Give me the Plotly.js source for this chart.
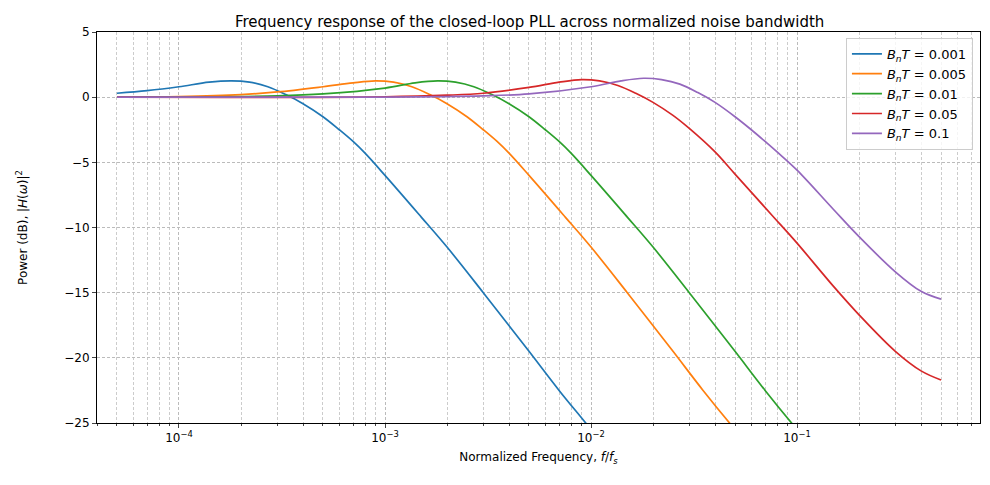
<!DOCTYPE html>
<html>
<head>
<script src="https://cdn.plot.ly/plotly-3.0.1.min.js"></script>
<style>body{margin:0;}</style>
</head>
<body>
<div id="chart" style="width:990px;height:485px;"></div>
<script>
// values (frequency f/fs, power in dB)
var blueF = [5e-5, 7e-5, 1e-4, 1.4e-4, 1.8e-4, 2.2e-4, 2.7e-4, 3.3e-4, 4e-4, 5e-4, 6e-4, 7e-4, 8e-4, 1e-3, 1.5e-3, 2e-3, 3e-3, 5e-3, 7e-3, 1e-2, 2e-2];
var blueP = [0.3, 0.5, 0.8, 1.15, 1.25, 1.15, 0.8, 0.2, -0.5, -1.5, -2.5, -3.4, -4.3, -6, -9.2, -11.5, -15, -19.5, -22.5, -25.5, -31.5];

var orangeF = [5e-5, 1e-4, 2e-4, 3e-4, 5e-4, 7e-4, 9e-4, 1.1e-3, 1.35e-3, 1.65e-3, 2e-3, 2.5e-3, 3e-3, 3.5e-3, 4e-3, 5e-3, 7.5e-3, 1e-2, 1.5e-2, 2.5e-2, 3.5e-2, 5e-2, 0.1];
var orangeP = [0, 0.05, 0.2, 0.4, 0.8, 1.1, 1.25, 1.15, 0.8, 0.2, -0.5, -1.5, -2.5, -3.4, -4.3, -6, -9.2, -11.5, -15, -19.5, -22.5, -25.5, -31];

var greenF = [5e-5, 1e-4, 3e-4, 5e-4, 1e-3, 1.4e-3, 1.8e-3, 2.2e-3, 2.7e-3, 3.3e-3, 4e-3, 5e-3, 6e-3, 7e-3, 8e-3, 1e-2, 1.5e-2, 2e-2, 3e-2, 5e-2, 7e-2, 0.1, 0.2];
var greenP = [0, 0.02, 0.1, 0.25, 0.7, 1.1, 1.25, 1.15, 0.8, 0.2, -0.5, -1.5, -2.5, -3.4, -4.3, -6, -9.2, -11.5, -15, -19.5, -22.5, -25.5, -31];

var redF = [5e-5, 1e-3, 2e-3, 3e-3, 5e-3, 7e-3, 9e-3, 1.1e-2, 1.35e-2, 1.65e-2, 2e-2, 2.5e-2, 3e-2, 4e-2, 5e-2, 7.5e-2, 0.1, 0.15, 0.2, 0.3, 0.4, 0.5];
var redP = [0, 0.03, 0.15, 0.3, 0.75, 1.15, 1.35, 1.25, 0.9, 0.3, -0.4, -1.4, -2.4, -4.2, -5.9, -9.0, -11.2, -14.5, -16.7, -19.5, -21, -21.7];

var purpleF = [5e-5, 1e-3, 3e-3, 5e-3, 1e-2, 1.4e-2, 1.8e-2, 2.2e-2, 2.7e-2, 3.3e-2, 4e-2, 5e-2, 6e-2, 7e-2, 8e-2, 0.1, 0.15, 0.2, 0.3, 0.4, 0.5];
var purpleP = [0, 0.01, 0.1, 0.25, 0.8, 1.25, 1.45, 1.35, 1.0, 0.35, -0.4, -1.5, -2.5, -3.4, -4.2, -5.6, -8.6, -10.7, -13.4, -14.9, -15.5];

var names = ['0.001', '0.005', '0.01', '0.05', '0.1'];
var colors = ['#1f77b4', '#ff7f0e', '#2ca02c', '#d62728', '#9467bd'];
var xs = [blueF, orangeF, greenF, redF, purpleF];
var ys = [blueP, orangeP, greenP, redP, purpleP];

var xTicks = [1e-4, 1e-3, 1e-2, 1e-1];
var xTickText = ['10<sup>−4</sup>', '10<sup>−3</sup>', '10<sup>−2</sup>', '10<sup>−1</sup>'];
var yTicks = [5, 0, -5, -10, -15, -20, -25];
var yTickText = ['5', '0', '−5', '−10', '−15', '−20', '−25'];

var data = xs.map(function (x, i) {
    return {
        x: x, y: ys[i], type: 'scatter', mode: 'lines',
        line: {color: colors[i], width: 1.7, shape: 'spline', smoothing: 1},
        name: '<i>B<sub>n</sub>T</i> = ' + names[i]
    };
});

var layout = {
    width: 990, height: 485,
    margin: {l: 97, r: 10, t: 32, b: 62},
    paper_bgcolor: 'white', plot_bgcolor: 'white',
    font: {family: 'DejaVu Sans', size: 12, color: '#000'},
    title: {text: 'Frequency response of the closed-loop PLL across normalized noise bandwidth',
            font: {size: 15}, x: 0.535, xanchor: 'center', y: 0.965},
    xaxis: {
        type: 'log', range: [Math.log10(4.0e-5), Math.log10(0.773)],
        tickvals: xTicks, ticktext: xTickText, ticks: 'outside', ticklen: 4,
        showline: true, mirror: true, linecolor: '#000', zeroline: false,
        showgrid: true, gridcolor: '#bbb', griddash: '3px,2px',
        minor: {showgrid: true, gridcolor: '#ccc', griddash: '3px,2px', ticks: 'outside', ticklen: 2, dtick: 'D1'},
        title: {text: 'Normalized Frequency, <i>f</i>/<i>f<sub>s</sub></i>', font: {size: 12}, standoff: 8}
    },
    yaxis: {
        range: [-25, 5], tickvals: yTicks, ticktext: yTickText, ticks: 'outside', ticklen: 4,
        showline: true, mirror: true, linecolor: '#000', zeroline: false,
        showgrid: true, gridcolor: '#bbb', griddash: '3px,2px',
        automargin: false,
        title: {text: 'Power (dB), |<i>H</i>(<i>ω</i>)|<sup>2</sup>', font: {size: 12}, standoff: 34}
    },
    legend: {x: 0.992, xanchor: 'right', y: 0.985, yanchor: 'top',
             bordercolor: '#ccc', borderwidth: 1, bgcolor: 'rgba(255,255,255,0.8)', font: {size: 13}},
    showlegend: true
};

Plotly.newPlot('chart', data, layout, {displayModeBar: false});
</script>
</body>
</html>
